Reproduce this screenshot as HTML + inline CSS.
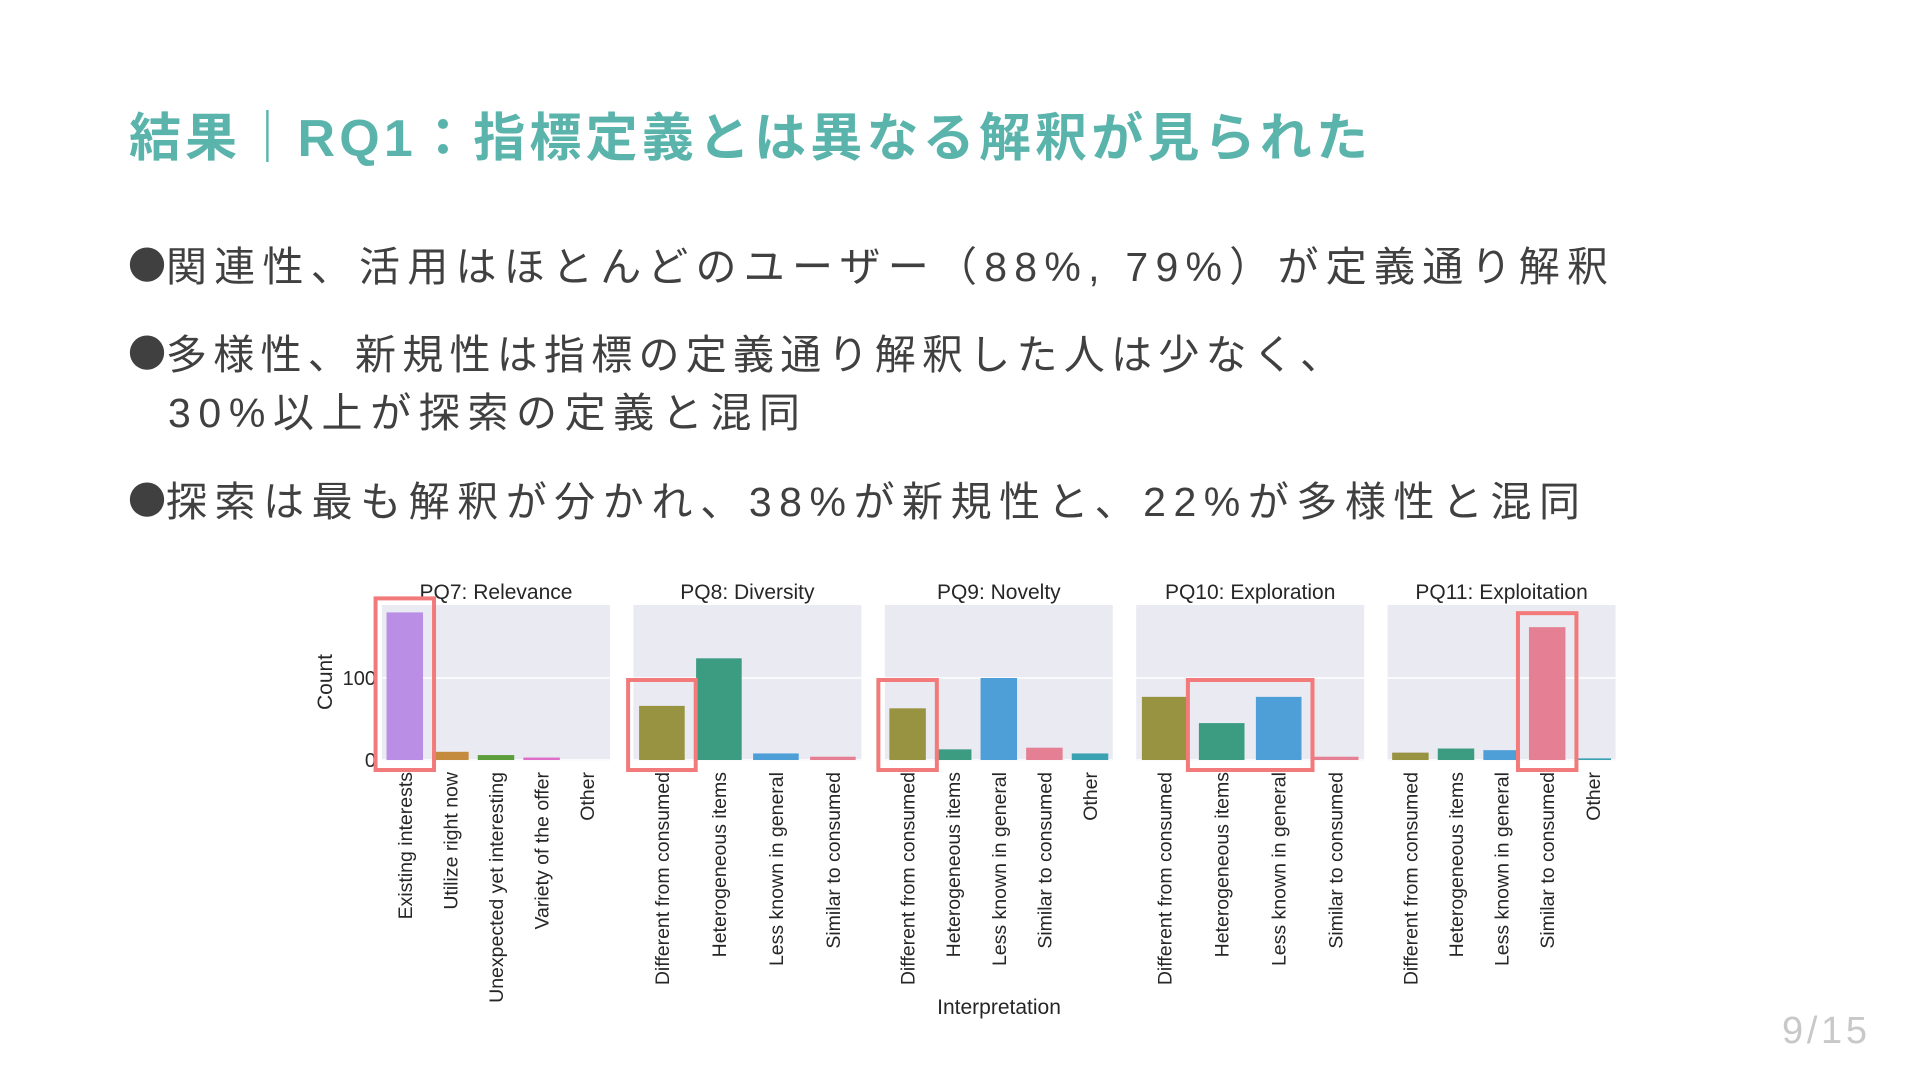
<!DOCTYPE html>
<html><head><meta charset="utf-8">
<style>
html,body{margin:0;padding:0;background:#fff;width:1920px;height:1080px;overflow:hidden}
svg{display:block}
.jp{font-family:"Liberation Sans","Noto Sans CJK JP",sans-serif}
.cjk{font-family:"Noto Sans CJK JP",sans-serif}
.lat{font-family:"Liberation Sans",sans-serif}
</style></head>
<body>
<svg id="slide" width="1920" height="1080" viewBox="0 0 1920 1080" xmlns="http://www.w3.org/2000/svg">
  <text class="jp" x="129" y="156" font-size="52" font-weight="bold" fill="#5ab4ac" textLength="1239" lengthAdjust="spacing">結果｜RQ1：指標定義とは異なる解釈が見られた</text>
  <text class="cjk" x="128" y="279" font-size="38" fill="#404040">●</text>
  <text class="jp" x="166" y="281" font-size="41" fill="#404040" textLength="1442" lengthAdjust="spacing">関連性、活用はほとんどのユーザー（88%, 79%）が定義通り解釈</text>
  <text class="cjk" x="128" y="367" font-size="38" fill="#404040">●</text>
  <text class="jp" x="166" y="369" font-size="41" fill="#404040" textLength="1175" lengthAdjust="spacing">多様性、新規性は指標の定義通り解釈した人は少なく、</text>
  <text class="jp" x="168" y="427" font-size="41" fill="#404040" textLength="632" lengthAdjust="spacing">30%以上が探索の定義と混同</text>
  <text class="cjk" x="128" y="514" font-size="38" fill="#404040">●</text>
  <text class="jp" x="166" y="516" font-size="41" fill="#404040" textLength="1414" lengthAdjust="spacing">探索は最も解釈が分かれ、38%が新規性と、22%が多様性と混同</text>
  <text class="lat" x="1782" y="1043" font-size="38" fill="#c8c8c8" textLength="85" lengthAdjust="spacing">9/15</text>
  <g id="chart"></g>
</svg>
<script>
const panelTitles = ["PQ7: Relevance","PQ8: Diversity","PQ9: Novelty","PQ10: Exploration","PQ11: Exploitation"];
const pq7Cats = ["Existing interests","Utilize right now","Unexpected yet interesting","Variety of the offer","Other"];
const pq7Vals = [180,10,6,3,0];
const pq7Colors = ["#b98ee4","#c48a3d","#5b9e3b","#dd6fc8","#888888"];
const pq8Cats = ["Different from consumed","Heterogeneous items","Less known in general","Similar to consumed"];
const pq8Vals = [66,124,8,4];
const pq9Cats = ["Different from consumed","Heterogeneous items","Less known in general","Similar to consumed","Other"];
const pq9Vals = [63,13,100,15,8];
const pq10Cats = ["Different from consumed","Heterogeneous items","Less known in general","Similar to consumed"];
const pq10Vals = [77,45,77,4];
const pq11Cats = ["Different from consumed","Heterogeneous items","Less known in general","Similar to consumed","Other"];
const pq11Vals = [9,14,12,162,2];
const sharedColors = ["#979340","#3c9c82","#4e9ed8","#e57f93","#3aa2b2"];
const yTicks = [0,100];
const yTickLabels = ["0","100"];
// highlight: [panel, first index, last index]
const highlightPanels = [0,1,2,3,4];
const highlightFrom = [0,0,0,1,3];
const highlightTo = [0,0,0,2,3];

const panelCats=[pq7Cats,pq8Cats,pq9Cats,pq10Cats,pq11Cats];
const panelVals=[pq7Vals,pq8Vals,pq9Vals,pq10Vals,pq11Vals];
const panelColors=[pq7Colors,sharedColors,sharedColors,sharedColors,sharedColors];

const NS="http://www.w3.org/2000/svg";
const chart=document.getElementById('chart');
const panelLeft=382, panelW=228, panelGap=23.4, plotTop=605, zeroY=760;
const pxPerUnit=0.82;
function yScale(v){return zeroY - v*pxPerUnit;}
function px(i){return panelLeft + i*(panelW+panelGap);}
function xBand(p,i){const n=panelCats[p].length;const bw=panelW/n;return {x:px(p)+i*bw,bw:bw};}
function mk(tag,attrs){const e=document.createElementNS(NS,tag);for(const k in attrs)e.setAttribute(k,attrs[k]);chart.appendChild(e);return e;}

yTicks.forEach((t,i)=>{
  const l=mk('text',{x:376,y:yScale(t)+7,'text-anchor':'end','font-size':20,fill:'#262626',class:'lat'});
  l.textContent=yTickLabels[i];
  
  
});
for(let p=0;p<panelTitles.length;p++){
  const bg=mk('rect',{x:px(p),y:plotTop,width:panelW,height:zeroY-plotTop+1,fill:'#eaeaf2'});
  
  
  yTicks.forEach(t=>{
    const g=mk('line',{x1:px(p),x2:px(p)+panelW,y1:yScale(t),y2:yScale(t),stroke:'#ffffff','stroke-width':1.5});
    
    
  });
  const tt=mk('text',{x:px(p)+panelW/2,y:599,'text-anchor':'middle','font-size':21,fill:'#262626',class:'lat'});
  tt.textContent=panelTitles[p];
  
  
  panelCats[p].forEach((c,i)=>{
    const b=xBand(p,i);const v=panelVals[p][i];
    const bar=mk('rect',{x:b.x+b.bw*0.1,y:yScale(v),width:b.bw*0.8,height:Math.max(0,zeroY-yScale(v)),fill:panelColors[p][i]});
    
    
    const cx=b.x+b.bw/2+7;
    const lab=mk('text',{x:cx,y:772,transform:`rotate(-90 ${cx} 772)`,'text-anchor':'end','font-size':19.5,fill:'#262626',class:'lat'});
    lab.textContent=c;
    
    
  });
}
const yt=mk('text',{x:332,y:682,transform:'rotate(-90 332 682)','text-anchor':'middle','font-size':21,fill:'#262626',class:'lat'});
yt.textContent='Count';


const xt=mk('text',{x:999,y:1014,'text-anchor':'middle','font-size':21,fill:'#262626',class:'lat'});
xt.textContent='Interpretation';



highlightPanels.forEach((p,k)=>{
  const a=xBand(p,highlightFrom[k]), b=xBand(p,highlightTo[k]);
  let maxV=0;for(let i=highlightFrom[k];i<=highlightTo[k];i++)maxV=Math.max(maxV,panelVals[p][i]);
  const left=a.x+a.bw*0.1-11, right=b.x+b.bw*0.9+11;
  const top=Math.min(yScale(maxV)-14, zeroY-80);
  const r=mk('rect',{x:left,y:top,width:right-left,height:770-top,fill:'none',stroke:'#f27a7a','stroke-width':4});
  
  
});
</script>
</body></html>
